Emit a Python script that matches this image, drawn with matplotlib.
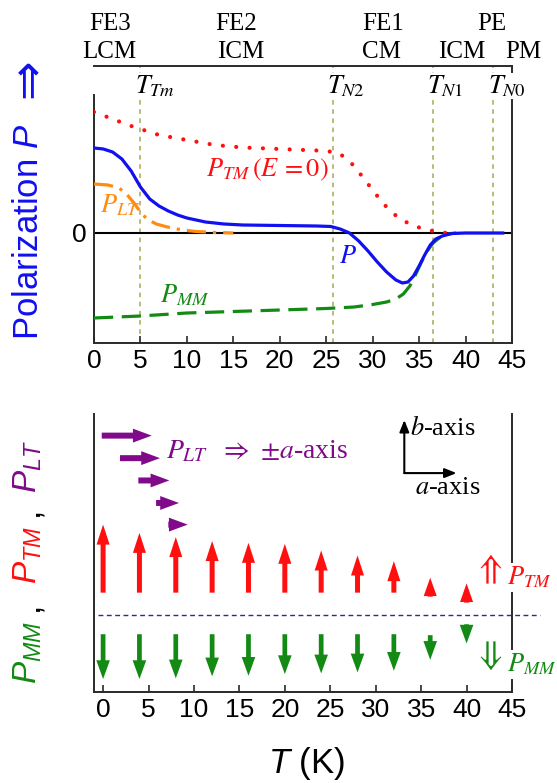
import numpy as np
import matplotlib
matplotlib.use('Agg')
import matplotlib.pyplot as plt

plt.rcParams['font.family'] = ['Liberation Sans', 'DejaVu Sans']
plt.rcParams['mathtext.fontset'] = 'custom'
plt.rcParams['mathtext.rm'] = 'Liberation Sans'
plt.rcParams['mathtext.it'] = 'Liberation Sans:italic'

# ---- upper panel: polarization curves vs temperature ----
T_P = [0, 1, 2, 3, 4, 5, 6, 7, 8, 9, 10, 12, 14, 16, 20, 24, 25.5, 26.5,
       27.5, 28.5, 29.5, 30.5, 31.5, 32.5, 33.2, 33.8, 34.4, 35.0, 35.6,
       36.2, 36.8, 37.5, 38.5, 40, 44]
P_total = [0.85, 0.84, 0.81, 0.74, 0.62, 0.46, 0.34, 0.27, 0.22, 0.18, 0.15,
           0.11, 0.09, 0.08, 0.075, 0.07, 0.065, 0.04, 0.0, -0.08, -0.18,
           -0.29, -0.39, -0.47, -0.50, -0.49, -0.43, -0.33, -0.22, -0.12,
           -0.06, -0.03, -0.005, 0, 0]

T_TM = [0, 2, 4, 5, 7, 10, 13, 16, 20, 24, 26, 27, 28, 29, 30, 31, 32, 33,
        34, 35, 36, 37, 38]
P_TM = [1.21, 1.14, 1.07, 1.04, 0.98, 0.93, 0.88, 0.855, 0.84, 0.825, 0.81,
        0.76, 0.67, 0.55, 0.43, 0.31, 0.21, 0.14, 0.09, 0.055, 0.03, 0.01, 0.0]

T_MM = [0, 5, 10, 15, 20, 25, 28, 30, 31.5, 32.5, 33.3, 34.0, 34.6, 35.2,
        35.8, 36.5, 37.3, 38.2, 39]
P_MM = [-0.85, -0.83, -0.80, -0.785, -0.77, -0.755, -0.74, -0.715, -0.69,
        -0.66, -0.61, -0.53, -0.42, -0.30, -0.19, -0.10, -0.04, -0.01, 0]

T_LT = [0, 1.5, 2.7, 3.5, 4.3, 5, 5.7, 6.7, 7.9, 9.5, 11, 13, 15]
P_LT = [0.49, 0.48, 0.45, 0.39, 0.30, 0.21, 0.14, 0.09, 0.06, 0.03, 0.015,
        0.005, 0.0]

T_trans = [5, 25.7, 36.45, 43.0]
trans_names = [r'$T_{Tm}$', r'$T_{N2}$', r'$T_{N1}$', r'$T_{N0}$']

phase_fe = ['FE3', 'FE2', 'FE1', 'PE']
phase_fe_T = [1.7, 15.3, 31.1, 42.8]
phase_mag = ['LCM', 'ICM', 'CM', 'ICM', 'PM']
phase_mag_T = [1.7, 15.8, 31.0, 39.6, 46.2]

# ---- lower panel: arrow sketch of each component ----
T_arr = [0, 4, 8, 12, 16, 20, 24, 28, 32, 36, 40]
tm_tail = [0.222] * 9 + [0.182, 0.122]
tm_tip = [0.905, 0.822, 0.78, 0.74, 0.722, 0.712, 0.645, 0.595, 0.538,
          0.372, 0.315]
mm_tail = [-0.195] * 9 + [-0.205, -0.095]
mm_tip = [-0.645, -0.645, -0.638, -0.618, -0.612, -0.595, -0.588, -0.578,
          -0.562, -0.452, -0.288]

lt_level = [1.798, 1.572, 1.348, 1.122, 0.905]
lt_tail = [-0.15, 1.86, 3.88, 5.83, 7.18]
lt_tip = [5.35, 6.26, 7.29, 8.35, 9.31]

xticks = [0, 5, 10, 15, 20, 25, 30, 35, 40, 45]

BLUE = '#1010f0'
RED = '#ff1010'
GREEN = '#138a13'
ORANGE = '#ff8c10'
PURPLE = '#800a8a'
OLIVE = '#a6aa52'
FRAME = '#2a2a2a'
SERIF = 'Liberation Serif'

W, H = 557, 783
fig = plt.figure(figsize=(W / 100, H / 100), dpi=100)
ax1 = fig.add_axes([94 / W, 1 - 343 / H, 418 / W, 277 / H])
ax2 = fig.add_axes([94 / W, 1 - 692 / H, 418 / W, 278 / H])


def arrow(ax, x0, y0, x1, y1, color, hw, hl, tw):
    # head length is clamped so very short arrows become a bare head
    p0 = ax.transData.transform((x0, y0))
    p1 = ax.transData.transform((x1, y1))
    length = np.hypot(*(p1 - p0)) * 72 / fig.dpi
    hl = min(hl, 0.97 * length)
    style = 'simple,head_length=%g,head_width=%g,tail_width=%g' % (hl, hw, tw)
    ax.annotate('', xy=(x1, y1), xytext=(x0, y0),
                arrowprops=dict(arrowstyle=style, color=color, lw=0,
                                shrinkA=0, shrinkB=0, mutation_scale=1))


# upper panel
ax1.set_xlim(0, 45)
ax1.set_ylim(-1.10, 1.67)
for t in T_trans:
    ax1.axvline(t, color=OLIVE, lw=1.1, ls=(0, (3, 3)), zorder=1)
ax1.axhline(0, color='k', lw=1.5, zorder=2)
ax1.plot(T_TM, P_TM, color=RED, lw=3, ls=(0, (0.01, 3.2)),
         dash_capstyle='round', zorder=3)
ax1.plot(T_MM, P_MM, color=GREEN, lw=2.3, ls=(0, (6, 2.7)), zorder=3)
ax1.plot(T_LT, P_LT, color=ORANGE, lw=2.3, ls=(0, (6, 2.2, 1, 2.2)), zorder=3)
ax1.plot(T_P, P_total, color=BLUE, lw=2.3, zorder=4)

ax1.text(18.7, 0.63, r'$P_{TM}\,(E\,=0)$', color=RED, fontsize=19,
         math_fontfamily='stix', ha='center', va='center')
ax1.text(2.8, 0.28, r'$P_{LT}$', color=ORANGE, fontsize=19,
         math_fontfamily='stix', ha='center', va='center')
ax1.text(27.3, -0.23, r'$P$', color=BLUE, fontsize=19,
         math_fontfamily='stix', ha='center', va='center')
ax1.text(9.8, -0.62, r'$P_{MM}$', color=GREEN, fontsize=19,
         math_fontfamily='stix', ha='center', va='center')

for t, name in zip(T_trans, trans_names):
    ax1.text(t - 0.6, 1.47, name, fontsize=19, math_fontfamily='stix',
             ha='left', va='center', zorder=5,
             bbox=dict(fc='white', ec='none', pad=0.3))
for t, name in zip(phase_fe_T, phase_fe):
    ax1.text(t, 2.09, name, fontsize=18, family=SERIF, ha='center',
             va='center', clip_on=False)
for t, name in zip(phase_mag_T, phase_mag):
    ax1.text(t, 1.81, name, fontsize=18, family=SERIF, ha='center',
             va='center', clip_on=False)

ax1.spines['left'].set_bounds(-1.10, 1.38)
for s in ax1.spines.values():
    s.set_color(FRAME)
    s.set_linewidth(1.4)
ax1.set_xticks(xticks)
ax1.set_yticks([0])
ax1.tick_params(axis='x', direction='in', length=5, width=1.2,
                labelsize=19, pad=4, color=FRAME)
ax1.tick_params(axis='y', length=0, labelsize=19, pad=5)

# lower panel
ax2.set_xlim(-1, 45)
ax2.set_ylim(-0.775, 2.015)
ax2.plot([-0.56, 48.1], [0, 0], color='#2c2c94', lw=1, ls=(0, (3.5, 2.5)),
         clip_on=False, zorder=2)
for t, a, b in zip(T_arr, tm_tail, tm_tip):
    arrow(ax2, t, a, t, b, RED, 9.4, 14.4, 3.6)
for t, a, b in zip(T_arr, mm_tail, mm_tip):
    arrow(ax2, t, a, t, b, GREEN, 9.8, 13.5, 3.4)
for y, a, b in zip(lt_level, lt_tail, lt_tip):
    arrow(ax2, a, y, b, y, PURPLE, 10, 13.5, 4.3)

ax2.text(6.92, 1.635, r'$P_{LT}$  $\Rightarrow$ $\pm a$-axis', color=PURPLE,
         fontsize=20, family=SERIF, math_fontfamily='stix', ha='left',
         va='center')

# small a/b crystal axes indicator
ax2.annotate('', xy=(33.15, 1.955), xytext=(33.15, 1.422),
             arrowprops=dict(arrowstyle='-|>,head_length=0.5,head_width=0.2',
                             color='k', lw=1.5, shrinkA=0, shrinkB=0,
                             mutation_scale=14))
ax2.annotate('', xy=(38.9, 1.422), xytext=(33.15, 1.422),
             arrowprops=dict(arrowstyle='-|>,head_length=0.5,head_width=0.2',
                             color='k', lw=1.5, shrinkA=0, shrinkB=0,
                             mutation_scale=14))
ax2.text(33.8, 1.875, r'$b$-axis', fontsize=19, family=SERIF,
         math_fontfamily='stix', ha='left', va='center')
ax2.text(34.3, 1.27, r'$a$-axis', fontsize=19, family=SERIF,
         math_fontfamily='stix', ha='left', va='center')

# side labels for the two arrow rows
ax2.text(42.36, 0.455, r'$\Uparrow$', color=RED, fontsize=25,
         math_fontfamily='stix', ha='center', va='center', clip_on=False)
ax2.text(44.4, 0.375, r'$P_{TM}$', color=RED, fontsize=19,
         math_fontfamily='stix', ha='left', va='center', clip_on=False,
         zorder=5, bbox=dict(fc='white', ec='none', pad=1))
ax2.text(42.36, -0.405, r'$\Downarrow$', color=GREEN, fontsize=25,
         math_fontfamily='stix', ha='center', va='center', clip_on=False)
ax2.text(44.4, -0.50, r'$P_{MM}$', color=GREEN, fontsize=19,
         math_fontfamily='stix', ha='left', va='center', clip_on=False,
         zorder=5, bbox=dict(fc='white', ec='none', pad=1))

ax2.spines['top'].set_visible(False)
for s in ax2.spines.values():
    s.set_color(FRAME)
    s.set_linewidth(1.4)
ax2.set_xticks(xticks)
ax2.set_yticks([])
ax2.tick_params(axis='x', direction='in', length=5, width=1.2,
                labelsize=19, pad=4, color=FRAME)

# axis titles
fig.text(29 / W, 1 - 232 / H, r'Polarization $P$', color=BLUE,
         fontsize=25, rotation=90, ha='center', va='center')
fig.text(29 / W, 1 - 78 / H, '⇒', color=BLUE, family='DejaVu Sans',
         fontsize=34, rotation=90, ha='center', va='center')
ylab = [(r'$P_{MM}$', GREEN, 652), (',', 'k', 606), (r'$P_{TM}$', RED, 555),
        (',', 'k', 511), (r'$P_{LT}$', PURPLE, 467)]
for s, c, yc in ylab:
    fig.text(37 / W, 1 - yc / H, s, color=c, fontsize=24, rotation=90,
             rotation_mode='anchor', ha='center', va='baseline')
fig.text(307 / W, 1 - 773 / H, r'$T$ (K)', fontsize=25, ha='center',
         va='baseline')

fig.savefig('out.png', dpi=100)
